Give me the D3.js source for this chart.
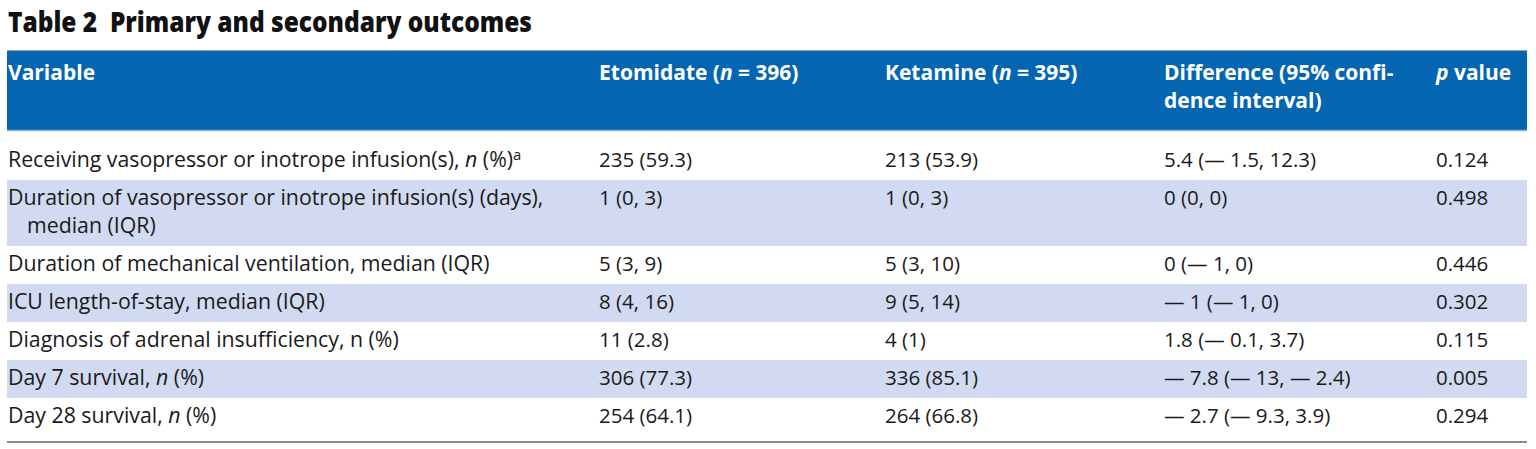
<!DOCTYPE html>
<html>
<head>
<meta charset="utf-8">
<script src="https://cdn.jsdelivr.net/npm/d3@7"></script>
<style>
  html, body { margin: 0; padding: 0; background: #ffffff; }
  svg { display: block; }
</style>
</head>
<body>
<script>
// ---------- data ----------
const title = "Table 2\u00A0\u00A0Primary and secondary outcomes";
const columnKeys = ["variable", "etomidate", "ketamine", "difference", "p"];
// header labels; *x* = italic, lines split by \n
const headers = [
  "Variable",
  "Etomidate (*n*\u2005=\u2005396)",
  "Ketamine (*n*\u2005=\u2005395)",
  "Difference (95% confi-\ndence interval)",
  "*p* value"
];
// ^x^ = superscript
const variables = [
  "Receiving vasopressor or inotrope infusion(s), *n* (%)^a^",
  "Duration of vasopressor or inotrope infusion(s) (days),\nmedian (IQR)",
  "Duration of mechanical ventilation, median (IQR)",
  "ICU length-of-stay, median (IQR)",
  "Diagnosis of adrenal insufficiency, n (%)",
  "Day 7 survival, *n* (%)",
  "Day 28 survival, *n* (%)"
];
const etomidate = ["235 (59.3)", "1 (0, 3)", "5 (3, 9)", "8 (4, 16)", "11 (2.8)", "306 (77.3)", "254 (64.1)"];
const ketamine  = ["213 (53.9)", "1 (0, 3)", "5 (3, 10)", "9 (5, 14)", "4 (1)", "336 (85.1)", "264 (66.8)"];
const difference = ["5.4 (— 1.5, 12.3)", "0 (0, 0)", "0 (— 1, 0)", "— 1 (— 1, 0)", "1.8 (— 0.1, 3.7)", "— 7.8 (— 13, — 2.4)", "— 2.7 (— 9.3, 3.9)"];
const pValues = ["0.124", "0.498", "0.446", "0.302", "0.115", "0.005", "0.294"];

// ---------- layout ----------
const W = 1536, H = 449;
const left = 7, right = 1527;
const headTop = 51, headBottom = 131;
const firstPad = 11, rowH = 38, lineH = 28;
const FONT = "'Open Sans', 'DejaVu Sans', sans-serif";

const svg = d3.select("body").append("svg").attr("width", W).attr("height", H);

const x = d3.scaleOrdinal().domain(columnKeys).range([8, 599, 885, 1164, 1436]);

// rich text parser
function addRich(textSel, str) {
  const re = /(\*[^*]+\*|\^[^^]+\^)/g;
  str.split(re).filter(s => s.length).forEach(seg => {
    if (seg.startsWith("*")) {
      textSel.append("tspan").attr("font-style", "italic").text(seg.slice(1, -1));
    } else if (seg.startsWith("^")) {
      textSel.append("tspan").attr("font-size", "0.7em").attr("dy", "-0.5em").text(seg.slice(1, -1));
    } else {
      textSel.append("tspan").text(seg);
    }
  });
}

// title
svg.append("text")
  .attr("x", 8).attr("y", 32)
  .attr("font-family", FONT).attr("font-weight", 800).attr("font-size", 28)
  .attr("fill", "#111")
  .attr("textLength", 524).attr("lengthAdjust", "spacingAndGlyphs")
  .text(title);

// header
svg.append("line").attr("x1", left).attr("x2", right).attr("y1", 50.5).attr("y2", 50.5)
  .attr("stroke", "#a0a0a0").attr("stroke-width", 1);
svg.append("rect").attr("x", left).attr("y", headTop).attr("width", right - left).attr("height", headBottom - headTop - 1)
  .attr("fill", "#0465b1");
svg.append("line").attr("x1", left).attr("x2", right).attr("y1", headBottom - 0.5).attr("y2", headBottom - 0.5)
  .attr("stroke", "#86b3de").attr("stroke-width", 1.5);

headers.forEach((h, i) => {
  h.split("\n").forEach((ln, j) => {
    const t = svg.append("text")
      .attr("x", x(columnKeys[i])).attr("y", 80 + j * lineH)
      .attr("font-family", FONT).attr("font-weight", 700).attr("font-size", 21)
      .attr("fill", "#ffffff");
    addRich(t, ln);
  });
});

// rows
const rows = variables.map((v, i) => ({
  cells: [v, etomidate[i], ketamine[i], difference[i], pValues[i]],
  lines: Math.max(...[v, etomidate[i], ketamine[i], difference[i], pValues[i]].map(s => s.split("\n").length))
}));
let yCur = headBottom;
rows.forEach((r, i) => {
  const pad = i === 0 ? firstPad : 0;
  r.top = yCur;
  r.textTop = yCur + pad;
  r.height = pad + rowH + (r.lines - 1) * lineH;
  yCur += r.height;
});
const y = d3.scaleOrdinal().domain(d3.range(rows.length)).range(rows.map(r => r.top));

const g = svg.append("g");
rows.forEach((r, i) => {
  if (i % 2 === 1) {
    g.append("rect").attr("x", left).attr("y", y(i)).attr("width", right - left).attr("height", r.height)
      .attr("fill", "#d1daf0");
  }
  r.cells.forEach((c, k) => {
    c.split("\n").forEach((ln, j) => {
      const t = g.append("text")
        .attr("x", x(columnKeys[k]) + (j > 0 && k === 0 ? 19 : 0))
        .attr("y", r.textTop + 25 + j * lineH)
        .attr("font-family", FONT).attr("font-size", k === 0 ? 21.3 : 20.5)
        .attr("fill", "#1a1a1a");
      addRich(t, ln);
    });
  });
});

// bottom rule
svg.append("line").attr("x1", left).attr("x2", right).attr("y1", 442).attr("y2", 442)
  .attr("stroke", "#8c8c8c").attr("stroke-width", 2);
</script>
</body>
</html>
